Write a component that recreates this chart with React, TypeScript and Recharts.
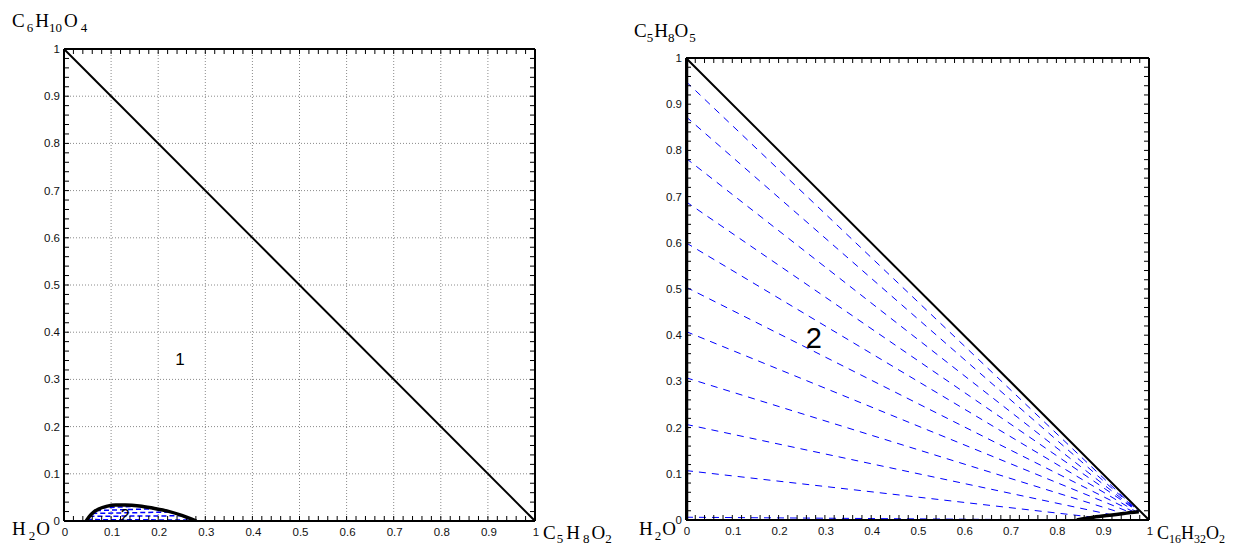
import { LineChart, Line, XAxis, YAxis, ReferenceLine } from 'recharts'

// tick positions (labels only on the 0.1 steps)
const MINOR_TICKS = [
  0, 0.02, 0.04, 0.06, 0.08, 0.1, 0.12, 0.14, 0.16, 0.18, 0.2, 0.22, 0.24, 0.26, 0.28, 0.3,
  0.32, 0.34, 0.36, 0.38, 0.4, 0.42, 0.44, 0.46, 0.48, 0.5, 0.52, 0.54, 0.56, 0.58, 0.6,
  0.62, 0.64, 0.66, 0.68, 0.7, 0.72, 0.74, 0.76, 0.78, 0.8, 0.82, 0.84, 0.86, 0.88, 0.9,
  0.92, 0.94, 0.96, 0.98, 1,
]
const GRID_LINES = [0.1, 0.2, 0.3, 0.4, 0.5, 0.6, 0.7, 0.8, 0.9]

// left diagram: C5H8O2 / C6H10O4 / H2O
const LEFT_DIAGONAL = [{ x: 0, y: 1 }, { x: 1, y: 0 }]
const LEFT_BINODAL = [
  { x: 0.047, y: 0 }, { x: 0.054, y: 0.01 }, { x: 0.063, y: 0.019 }, { x: 0.075, y: 0.026 },
  { x: 0.09, y: 0.031 }, { x: 0.11, y: 0.034 }, { x: 0.13, y: 0.034 }, { x: 0.16, y: 0.032 },
  { x: 0.19, y: 0.027 }, { x: 0.22, y: 0.021 }, { x: 0.25, y: 0.012 }, { x: 0.281, y: 0 },
]
const LEFT_TIES = [
  [{ x: 0.049, y: 0.003 }, { x: 0.275, y: 0.002 }],
  [{ x: 0.054, y: 0.01 }, { x: 0.25, y: 0.011 }],
  [{ x: 0.06, y: 0.016 }, { x: 0.225, y: 0.019 }],
  [{ x: 0.068, y: 0.022 }, { x: 0.19, y: 0.026 }],
  [{ x: 0.08, y: 0.028 }, { x: 0.15, y: 0.031 }],
]
const LEFT_REGION_LABELS = [
  { x: 0.246, y: 0.344, text: '1', size: 17 },
  { x: 0.13, y: 0.012, text: '2', size: 16 },
]

// right diagram: C16H32O2 / C5H8O5 / H2O
const RIGHT_DIAGONAL = [{ x: 0, y: 1 }, { x: 1, y: 0 }]
const RIGHT_LEFT_BRANCH = [{ x: 0, y: 0 }, { x: 0, y: 1 }]
const RIGHT_BINODAL = [
  { x: 0.844, y: 0 }, { x: 0.88, y: 0.006 }, { x: 0.92, y: 0.011 }, { x: 0.945, y: 0.014 },
  { x: 0.96, y: 0.016 }, { x: 0.978, y: 0.018 },
]
const RIGHT_TIE_START = [0.006, 0.107, 0.207, 0.308, 0.408, 0.504, 0.6, 0.689, 0.783, 0.873, 0.949]
const RIGHT_TIE_END_X = [0.845, 0.88, 0.92, 0.945, 0.96, 0.968, 0.973, 0.977, 0.977, 0.978, 0.978]
const RIGHT_TIE_END_Y = [0.0, 0.006, 0.011, 0.014, 0.016, 0.017, 0.0175, 0.018, 0.018, 0.018, 0.018]
const RIGHT_REGION_LABELS = [{ x: 0.276, y: 0.394, text: '2', size: 29 }]

const TICK_FONT = '"Liberation Sans", Arial, sans-serif'
const TITLE_FONT = '"Liberation Serif", "Times New Roman", serif'

const isMajor = (v: number) => Math.abs(v * 10 - Math.round(v * 10)) < 1e-6
const fmt = (v: number) => String(Math.round(v * 10) / 10)

function makeTick(side: 'bottom' | 'top' | 'left' | 'right', labels: boolean) {
  return (props: any) => {
    const { x, y, payload } = props
    const v = payload.value as number
    const len = 5
    let tick
    if (side === 'bottom') tick = <line x1={x} y1={y} x2={x} y2={y - len} stroke="#000" />
    else if (side === 'top') tick = <line x1={x} y1={y} x2={x} y2={y + len} stroke="#000" />
    else if (side === 'left') tick = <line x1={x} y1={y} x2={x + len} y2={y} stroke="#000" />
    else tick = <line x1={x} y1={y} x2={x - len} y2={y} stroke="#000" />
    let label = null
    if (labels && isMajor(v)) {
      if (side === 'bottom') {
        label = (
          <text x={x + 1} y={y + 15} textAnchor="middle" fontFamily={TICK_FONT} fontSize={11.5} fill="#111">
            {fmt(v)}
          </text>
        )
      } else if (side === 'left') {
        label = (
          <text x={x - 4} y={y + 4} textAnchor="end" fontFamily={TICK_FONT} fontSize={11.5} fill="#111">
            {fmt(v)}
          </text>
        )
      }
    }
    return (
      <g>
        {tick}
        {label}
      </g>
    )
  }
}

function Frame() {
  return [
    <XAxis key="xb" type="number" dataKey="x" domain={[0, 1]} ticks={MINOR_TICKS} interval={0}
      height={1} tickSize={0} tickMargin={0} tickLine={false} tick={makeTick('bottom', true)}
      axisLine={{ stroke: '#000', strokeWidth: 2 }} allowDataOverflow />,
    <XAxis key="xt" xAxisId="top" orientation="top" type="number" dataKey="x" domain={[0, 1]}
      ticks={MINOR_TICKS} interval={0} height={1} tickSize={0} tickMargin={0} tickLine={false}
      tick={makeTick('top', false)} axisLine={{ stroke: '#000', strokeWidth: 2 }} allowDataOverflow />,
    <YAxis key="yl" type="number" domain={[0, 1]} ticks={MINOR_TICKS} interval={0} width={1}
      tickSize={0} tickMargin={0} tickLine={false} tick={makeTick('left', true)}
      axisLine={{ stroke: '#000', strokeWidth: 2 }} allowDataOverflow />,
    <YAxis key="yr" yAxisId="right" orientation="right" type="number" domain={[0, 1]}
      ticks={MINOR_TICKS} interval={0} width={1} tickSize={0} tickMargin={0} tickLine={false}
      tick={makeTick('right', false)} axisLine={{ stroke: '#000', strokeWidth: 2 }} allowDataOverflow />,
  ]
}

// region numbers drawn as a one-point series so they sit on top of the tie lines
function RegionLabels({ items }: { items: { x: number; y: number; text: string; size: number }[] }) {
  return items.map((it, i) => (
    <Line key={'lab' + i} data={[it]} dataKey="y" stroke="none" isAnimationActive={false}
      dot={(p: any) => (
        <text key={'t' + i} x={p.cx} y={p.cy} dy="0.35em" textAnchor="middle" fontFamily={TICK_FONT}
          fontSize={it.size} fill="#000">
          {it.text}
        </text>
      )} />
  ))
}

export default function App() {
  return (
    <div style={{ position: 'absolute', left: 0, top: 0, width: 1243, height: 548, background: '#fff', overflow: 'hidden' }}>
      <div style={{ position: 'absolute', left: 0, top: 0 }}>
        <LineChart width={560} height={548} margin={{ top: 48, right: 24, bottom: 26, left: 63 }}>
          {Frame()}
          {GRID_LINES.map((v) => (
            <ReferenceLine key={'gx' + v} x={v} stroke="#8a8a8a" strokeDasharray="1 2" />
          ))}
          {GRID_LINES.map((v) => (
            <ReferenceLine key={'gy' + v} y={v} stroke="#8a8a8a" strokeDasharray="1 2" />
          ))}
          <Line data={LEFT_DIAGONAL} dataKey="y" stroke="#000" strokeWidth={2} dot={false}
            isAnimationActive={false} />
          {LEFT_TIES.map((d, i) => (
            <Line key={'lt' + i} data={d} dataKey="y" stroke="#0000ff" strokeWidth={1.5}
              strokeDasharray="5 3" dot={false} isAnimationActive={false} />
          ))}
          <Line data={LEFT_BINODAL} dataKey="y" type="monotone" stroke="#000" strokeWidth={3.5}
            dot={false} isAnimationActive={false} />
          {RegionLabels({ items: LEFT_REGION_LABELS })}
        </LineChart>
      </div>
      <div style={{ position: 'absolute', left: 620, top: 0 }}>
        <LineChart width={600} height={548} margin={{ top: 57, right: 70, bottom: 27, left: 65 }}>
          {Frame()}
          {RIGHT_TIE_START.map((y0, i) => (
            <Line key={'rt' + i}
              data={[{ x: 0, y: y0 }, { x: RIGHT_TIE_END_X[i], y: RIGHT_TIE_END_Y[i] }]}
              dataKey="y" stroke="#0000ff" strokeWidth={1} strokeDasharray="7 6" dot={false}
              isAnimationActive={false} />
          ))}
          <Line data={RIGHT_DIAGONAL} dataKey="y" stroke="#000" strokeWidth={2} dot={false}
            isAnimationActive={false} />
          <Line data={RIGHT_LEFT_BRANCH} dataKey="y" stroke="#000" strokeWidth={4.5} dot={false}
            isAnimationActive={false} />
          <Line data={RIGHT_BINODAL} dataKey="y" type="monotone" stroke="#000" strokeWidth={3.5}
            dot={false} isAnimationActive={false} />
          {RegionLabels({ items: RIGHT_REGION_LABELS })}
        </LineChart>
      </div>
      <svg width={1243} height={548} style={{ position: 'absolute', left: 0, top: 0, pointerEvents: 'none' }}>
        <g fontFamily={TITLE_FONT} fontSize={19} fill="#000">
          <text x={12} y={27}>
            C<tspan fontSize={13} dx={2} dy={5}>6</tspan>
            <tspan dx={2} dy={-5}>H</tspan><tspan fontSize={13} dy={5}>10</tspan>
            <tspan dx={2} dy={-5}>O</tspan><tspan fontSize={13} dx={3} dy={5}>4</tspan>
          </text>
          <text x={12} y={535}>
            H<tspan fontSize={13} dx={3} dy={5}>2</tspan><tspan dx={1} dy={-5}>O</tspan>
          </text>
          <text x={543} y={539}>
            C<tspan fontSize={13} dx={1} dy={4}>5</tspan>
            <tspan dx={3} dy={-4}>H</tspan><tspan fontSize={13} dx={3} dy={4}>8</tspan>
            <tspan dx={2} dy={-4}>O</tspan><tspan fontSize={13} dy={4}>2</tspan>
          </text>
          <text x={634} y={37}>
            C<tspan fontSize={13} dy={5}>5</tspan>
            <tspan dx={1} dy={-5}>H</tspan><tspan fontSize={13} dy={5}>8</tspan>
            <tspan dy={-5}>O</tspan><tspan fontSize={13} dx={1} dy={5}>5</tspan>
          </text>
          <text x={639} y={535}>
            H<tspan fontSize={13} dx={2} dy={5}>2</tspan><tspan dx={1} dy={-5}>O</tspan>
          </text>
          <text x={1157} y={539} fontSize={18}>
            C<tspan fontSize={12} dy={4}>16</tspan>
            <tspan dy={-4}>H</tspan><tspan fontSize={12} dy={4}>32</tspan>
            <tspan dy={-4}>O</tspan><tspan fontSize={12} dy={4}>2</tspan>
          </text>
        </g>
      </svg>
    </div>
  )
}
